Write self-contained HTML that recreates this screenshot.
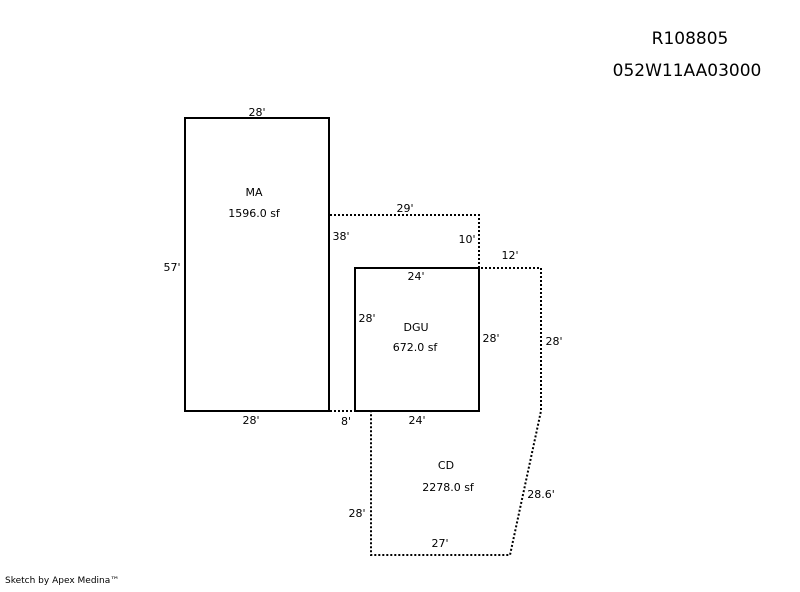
<!DOCTYPE html>
<html><head><style>
body{margin:0;background:#fff;width:800px;height:587px;overflow:hidden}
svg text{font-family:"DejaVu Sans",Verdana,sans-serif;font-size:11px;fill:#000}
</style></head><body>
<svg width="800" height="587" xmlns="http://www.w3.org/2000/svg">
<g fill="none" stroke="#000" stroke-width="2" stroke-dasharray="2,2">
<polyline points="330,215 479,215 479,268 541,268 541,411 510,555 371,555 371,412"/>
<line x1="330" y1="411" x2="355" y2="411"/>
</g>
<g fill="none" stroke="#000" stroke-width="2">
<rect x="185" y="118" width="144" height="293"/>
<rect x="355" y="268" width="124" height="143"/>
</g>
<text x="690" y="44" text-anchor="middle" style="font-size:17px">R108805</text>
<text x="687" y="76" text-anchor="middle" style="font-size:17px">052W11AA03000</text>
<g text-anchor="middle">
<text x="257" y="116">28'</text>
<text x="254" y="196">MA</text>
<text x="254" y="217">1596.0 sf</text>
<text x="172" y="271">57'</text>
<text x="341" y="240">38'</text>
<text x="405" y="212">29'</text>
<text x="467" y="243">10'</text>
<text x="510" y="259">12'</text>
<text x="416" y="280">24'</text>
<text x="367" y="322">28'</text>
<text x="416" y="331">DGU</text>
<text x="415" y="351">672.0 sf</text>
<text x="491" y="342">28'</text>
<text x="554" y="345">28'</text>
<text x="251" y="424">28'</text>
<text x="346" y="425">8'</text>
<text x="417" y="424">24'</text>
<text x="446" y="469">CD</text>
<text x="448" y="491">2278.0 sf</text>
<text x="541" y="498">28.6'</text>
<text x="357" y="517">28'</text>
<text x="440" y="547">27'</text>
</g>
<text x="5" y="583" style="font-size:9px">Sketch by Apex Medina™</text>
</svg>
</body></html>
